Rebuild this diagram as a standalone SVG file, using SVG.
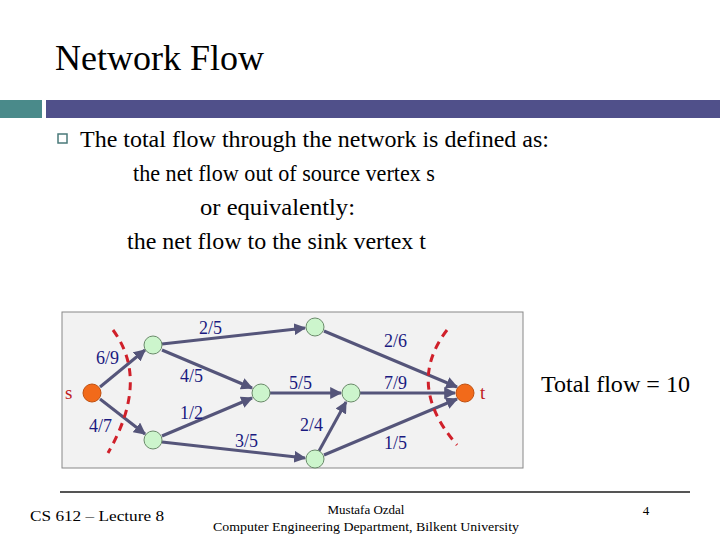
<svg xmlns="http://www.w3.org/2000/svg" width="720" height="540" viewBox="0 0 720 540">
<defs>
<marker id="ah" viewBox="0 0 10 10" refX="9" refY="5" markerWidth="4" markerHeight="4" orient="auto"><path d="M0,0 L10,5 L0,10 z" fill="#55557a"/></marker>
<style>
text{font-family:'Liberation Serif','Times New Roman',serif}
.t{fill:#000}
.l{fill:#1a1a80;font-size:18px}
.e{stroke:#55557a;stroke-width:3;fill:none;marker-end:url(#ah)}
.n{fill:#ccf5cc;stroke:#6a8a6a;stroke-width:1}
.st{fill:#f26a1a;stroke:#c05010;stroke-width:1}
.cut{stroke:#d0202a;stroke-width:3;fill:none;stroke-dasharray:8,6}
</style>
</defs>
<rect width="720" height="540" fill="#fff"/>
<text class="t" x="55" y="70" font-size="36" fill="#333" textLength="209" lengthAdjust="spacingAndGlyphs">Network Flow</text>
<rect x="0" y="100" width="42" height="18" fill="#4a8a8a"/>
<rect x="46" y="100" width="674" height="18" fill="#50508a"/>
<rect x="58" y="134" width="9" height="9" fill="none" stroke="#4a7a7a" stroke-width="1.5"/>
<text class="t" x="80" y="147" font-size="23" textLength="469" lengthAdjust="spacingAndGlyphs">The total flow through the network is defined as:</text>
<text class="t" x="133" y="181" font-size="23" textLength="302" lengthAdjust="spacingAndGlyphs">the net flow out of source vertex s</text>
<text class="t" x="200" y="215" font-size="23" textLength="155" lengthAdjust="spacingAndGlyphs">or equivalently:</text>
<text class="t" x="127" y="249" font-size="23" textLength="299" lengthAdjust="spacingAndGlyphs">the net flow to the sink vertex t</text>
<rect x="62" y="312" width="461" height="156" fill="#f2f2f2" stroke="#888" stroke-width="1"/>
<g id="edges">
<line class="e" x1="100" y1="387" x2="145" y2="350"/>
<line class="e" x1="100" y1="399" x2="145" y2="434"/>
<line class="e" x1="162" y1="344" x2="305" y2="328"/>
<line class="e" x1="162" y1="350" x2="252" y2="388"/>
<line class="e" x1="162" y1="436" x2="252" y2="398"/>
<line class="e" x1="162" y1="442" x2="305" y2="458"/>
<line class="e" x1="324" y1="331" x2="457" y2="387"/>
<line class="e" x1="270" y1="393" x2="341" y2="393"/>
<line class="e" x1="360" y1="393" x2="455" y2="393"/>
<line class="e" x1="319" y1="451" x2="346" y2="402"/>
<line class="e" x1="324" y1="455" x2="457" y2="399"/>
</g>
<path class="cut" d="M113,330 Q150,380 108,453"/>
<path class="cut" d="M447,330 Q405,385 457,445"/>
<g id="s"><circle class="st" cx="92" cy="393" r="9"/><text x="65" y="399" font-size="19" fill="#c02020">s</text></g>
<g id="n1"><circle class="n" cx="153" cy="345" r="9"/></g>
<g id="n2"><circle class="n" cx="315" cy="327" r="9"/></g>
<g id="n3"><circle class="n" cx="261" cy="393" r="9"/></g>
<g id="n4"><circle class="n" cx="351" cy="393" r="9"/></g>
<g id="n5"><circle class="n" cx="153" cy="440" r="9"/></g>
<g id="n6"><circle class="n" cx="315" cy="459" r="9"/></g>
<g id="t"><circle class="st" cx="465" cy="393" r="9"/><text x="480" y="399" font-size="19" fill="#c02020">t</text></g>
<g id="labels">
<text class="l" x="199" y="334">2/5</text>
<text class="l" x="96" y="364">6/9</text>
<text class="l" x="384" y="347">2/6</text>
<text class="l" x="180" y="382">4/5</text>
<text class="l" x="289" y="389">5/5</text>
<text class="l" x="384" y="389">7/9</text>
<text class="l" x="180" y="419">1/2</text>
<text class="l" x="89" y="432">4/7</text>
<text class="l" x="300" y="431">2/4</text>
<text class="l" x="235" y="447">3/5</text>
<text class="l" x="384" y="449">1/5</text>
</g>
<text class="t" x="541" y="392" font-size="23" textLength="149" lengthAdjust="spacingAndGlyphs">Total flow = 10</text>
<line x1="60" y1="492" x2="690" y2="492" stroke="#555" stroke-width="2"/>
<text class="t" x="30" y="521" font-size="14" textLength="134" lengthAdjust="spacingAndGlyphs">CS 612 – Lecture 8</text>
<text class="t" x="366" y="514" font-size="13" text-anchor="middle">Mustafa Ozdal</text>
<text class="t" x="366" y="531" font-size="13" text-anchor="middle" textLength="306" lengthAdjust="spacingAndGlyphs">Computer Engineering Department, Bilkent University</text>
<text class="t" x="646" y="515" font-size="13" text-anchor="middle">4</text>
</svg>
